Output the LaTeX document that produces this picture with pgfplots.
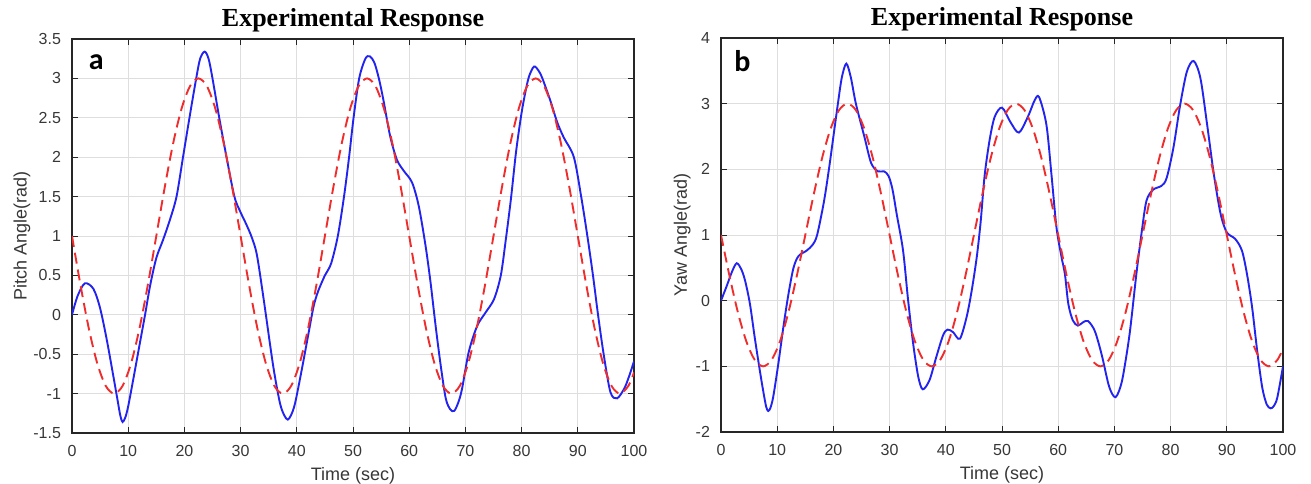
\documentclass[border=0pt]{standalone}
\usepackage{fontspec}
\setmainfont{Liberation Sans}
\newfontfamily\titlefont{Liberation Serif}
\newfontfamily\panelfont{Carlito}
\usepackage{pgfplots}
\pgfplotsset{compat=1.18}
\definecolor{axgray}{RGB}{38,38,38}
\definecolor{ticklab}{RGB}{55,55,55}
\definecolor{gridgray}{RGB}{222,222,222}
\definecolor{myblue}{RGB}{35,35,240}
\definecolor{myred}{RGB}{240,45,45}

\pgfplotstableread{
t v
0 1
1.5 0.382
3 -0.176
4.5 -0.618
6 -0.902
7.5 -1
9 -0.902
10.5 -0.618
12 -0.176
13.5 0.382
15 1
16.5 1.618
18 2.176
19.5 2.618
21 2.902
22.5 3
24 2.902
25.5 2.618
27 2.176
28.5 1.618
30 1
31.5 0.382
33 -0.176
34.5 -0.618
36 -0.902
37.5 -1
39 -0.902
40.5 -0.618
42 -0.176
43.5 0.382
45 1
46.5 1.618
48 2.176
49.5 2.618
51 2.902
52.5 3
54 2.902
55.5 2.618
57 2.176
58.5 1.618
60 1
61.5 0.382
63 -0.176
64.5 -0.618
66 -0.902
67.5 -1
69 -0.902
70.5 -0.618
72 -0.176
73.5 0.382
75 1
76.5 1.618
78 2.176
79.5 2.618
81 2.902
82.5 3
84 2.902
85.5 2.618
87 2.176
88.5 1.618
90 1
91.5 0.382
93 -0.176
94.5 -0.618
96 -0.902
97.5 -1
99 -0.902
100 -0.732
}\reftable

\pgfplotstableread{
t v
0 0
1 0.24
2.3 0.40
3.8 0.33
4.98 0.09
6.17 -0.31
7.36 -0.78
8.1 -1.08
8.6 -1.28
9.0 -1.36
9.5 -1.30
10.0 -1.16
10.9 -0.82
12.1 -0.35
13 0
13.9 0.37
15 0.72
16.2 0.95
17.4 1.2
18.6 1.5
19.75 2
20.9 2.5
22.1 3
22.8 3.25
23.6 3.34
24.3 3.25
25 3
26.2 2.5
27.5 2
28.9 1.5
30 1.3
31 1.15
32 0.98
32.9 0.76
34.1 0.2
35.8 -0.65
37.0 -1.12
37.8 -1.28
38.4 -1.33
39.0 -1.27
39.7 -1.12
40.9 -0.69
42.1 -0.23
43 0.11
43.8 0.3
45 0.5
46.1 0.65
47.3 1
48.4 1.5
49.3 2
50.1 2.5
51.1 3
52.2 3.25
53 3.28
53.8 3.2
54.6 3
55.4 2.73
56.6 2.27
57.8 1.97
59.0 1.83
60.5 1.68
61.7 1.38
62.9 0.88
63.8 0.41
64.7 -0.14
65.6 -0.64
66.5 -1.06
67.3 -1.2
68 -1.22
68.7 -1.12
69.4 -0.94
70.6 -0.47
72.1 -0.14
73.6 0.03
75.1 0.2
76.3 0.5
77.2 0.96
78.1 1.47
79.0 2.06
79.9 2.52
80.6 2.8
81.3 3.02
82.2 3.15
83.0 3.1
83.7 3
85.2 2.7
86.3 2.45
87.5 2.25
89.3 2.0
90.6 1.5
91.7 1
92.7 0.5
93.6 0
94.6 -0.5
95.8 -0.98
97 -1.06
98.5 -0.9
100 -0.59
}\pitchtable

\pgfplotstableread{
t v
0 0
1 0.22
2 0.45
2.8 0.57
3.6 0.48
4.3 0.30
5.15 -0.05
6.0 -0.56
6.9 -1.06
7.6 -1.42
8.05 -1.62
8.4 -1.68
8.8 -1.63
9.3 -1.46
10.2 -0.96
11.1 -0.40
12.0 0.1
12.9 0.5
13.8 0.68
15.2 0.76
16.3 0.85
17.1 1
18.3 1.5
19.2 2
20 2.5
20.8 3
21.5 3.4
22.3 3.61
23.1 3.4
24 3
25.5 2.5
26.7 2.1
27.9 1.97
29 1.97
29.8 1.9
30.5 1.7
31.3 1.3
32.4 0.76
33.3 0
34.2 -0.66
35.1 -1.16
35.9 -1.35
37.1 -1.21
38.3 -0.86
39.5 -0.53
40.3 -0.44
41.3 -0.48
42.5 -0.58
43.7 -0.25
44.6 0.15
45.5 0.66
46.2 1.2
46.9 1.9
47.8 2.45
48.7 2.8
50 2.94
51.5 2.72
53 2.56
54.6 2.8
55.8 3.05
56.6 3.1
57.9 2.68
58.8 1.92
59.7 1.11
60.6 0.66
61.2 0.40
61.8 -0.05
62.6 -0.30
63.5 -0.38
64.4 -0.33
65.3 -0.31
66.5 -0.46
67.7 -0.81
68.9 -1.26
69.6 -1.42
70.2 -1.47
70.8 -1.38
71.5 -1.16
72.7 -0.51
73.9 0.40
74.8 1.01
75.7 1.52
76.9 1.69
78.4 1.75
79.3 1.87
80.5 2.33
81.7 2.98
82.9 3.49
84.1 3.65
85.3 3.39
86.5 2.68
87.7 1.92
88.9 1.32
90.0 1.04
91.5 0.94
92.7 0.76
93.6 0.40
94.5 -0.10
95.4 -0.76
96.3 -1.32
97.1 -1.58
97.8 -1.64
98.4 -1.6
99.0 -1.47
100 -1.0
}\yawtable

\pgfplotsset{
  mystyle/.style={
    scale only axis, width=281pt, height=197pt,
    xmin=0, xmax=100, xtick={0,10,...,100},
    grid=major, major grid style={gridgray, line width=0.5pt},
    axis line style={axgray, line width=0.6pt},
    tick style={axgray, line width=0.5pt},
    tick align=inside, major tick length=3pt,
    xtick pos=both, ytick pos=both,
    /pgf/number format/assume math mode=true,
    tick label style={font=\fontsize{8}{9}\selectfont, text=ticklab},
    xticklabel style={yshift=-2.5pt},
    yticklabel style={xshift=-2pt},
    label style={font=\fontsize{9}{10}\selectfont, text=ticklab},
    xlabel style={at={(axis description cs:0.5,0)}, anchor=base, yshift=-23.5pt},
    title style={font=\titlefont\bfseries\fontsize{13}{14}\selectfont, at={(axis description cs:0.5,1)}, anchor=base, yshift=0.5pt},
    xlabel={Time (sec)},
    title={Experimental Response},
  },
  blueline/.style={myblue, line width=0.95pt, smooth},
  redline/.style={myred, line width=0.95pt, dash pattern=on 5.5pt off 3pt, smooth},
}

\begin{document}
\begin{tikzpicture}
\path[use as bounding box] (0,0) rectangle (655.5pt,241.5pt);
\begin{axis}[mystyle, at={(36pt,25pt)}, anchor=south west,
  ymin=-1.5, ymax=3.5, ytick={-1.5,-1,...,3.5},
  ylabel={Pitch Angle(rad)},
  ylabel style={at={(axis description cs:-0.089,0.5)}, anchor=center, rotate=0}]
\addplot[blueline] table[x=t,y=v] {\pitchtable};
\addplot[redline] table[x=t,y=v] {\reftable};
\node[font=\panelfont\bfseries\fontsize{15}{16}\selectfont, text=black] at (rel axis cs:0.043,0.942) {a};
\end{axis}
\begin{axis}[mystyle, at={(360.5pt,25.5pt)}, anchor=south west,
  ymin=-2, ymax=4, ytick={-2,-1,...,4},
  ylabel={Yaw Angle(rad)},
  ylabel style={at={(axis description cs:-0.069,0.5)}, anchor=center, rotate=0}]
\addplot[blueline] table[x=t,y=v] {\yawtable};
\addplot[redline] table[x=t,y=v] {\reftable};
\node[font=\panelfont\bfseries\fontsize{15}{16}\selectfont, text=black] at (rel axis cs:0.038,0.942) {b};
\end{axis}
\end{tikzpicture}
\end{document}
